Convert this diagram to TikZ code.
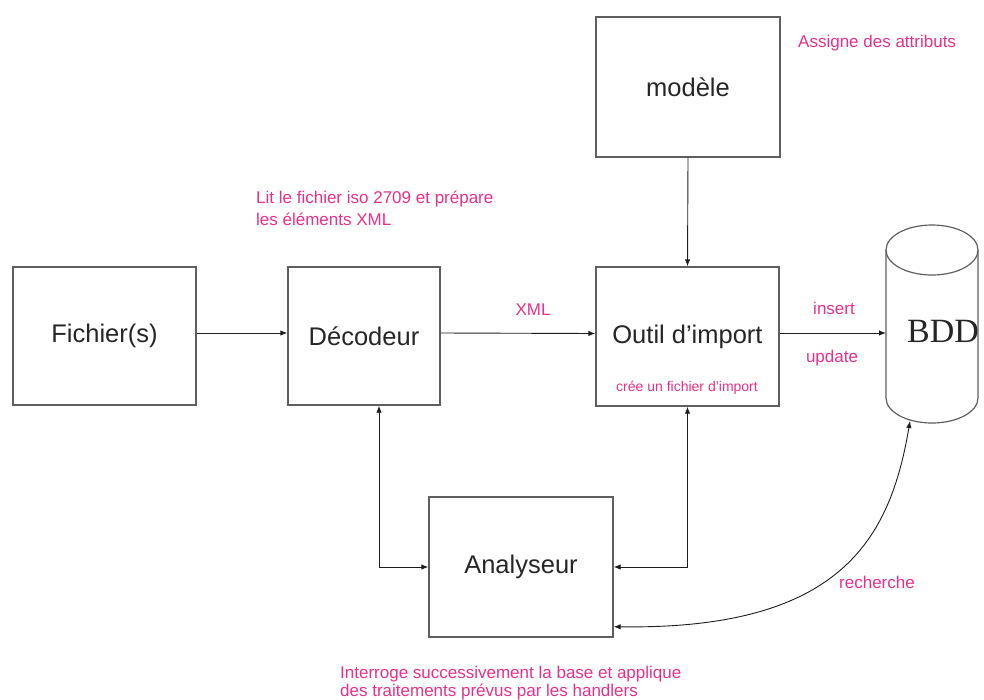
\documentclass[tikz,border=0pt]{standalone}
\usepackage{fontspec}
\setmainfont{Liberation Sans}
\newfontfamily\serifbdd{Liberation Serif}
\usetikzlibrary{arrows.meta}
\definecolor{pinklbl}{RGB}{228,50,140}
\definecolor{boxgray}{RGB}{95,95,95}
\definecolor{linedark}{RGB}{30,30,30}
\tikzset{
  box/.style={draw=boxgray, line width=1.4pt, rectangle, inner sep=0pt, font=\fontsize{25.5}{30}\selectfont, text=black!85},
  lbl/.style={text=pinklbl, font=\fontsize{17}{22}\selectfont, inner sep=0pt},
  conn/.style={draw=linedark, line width=0.9pt, -{Latex[length=7pt,width=5.5pt]}},
  conn2/.style={draw=linedark, line width=0.9pt, {Latex[length=7pt,width=5.5pt]}-{Latex[length=7pt,width=5.5pt]}},
}
\begin{document}
\begin{tikzpicture}[x=1pt,y=-1pt]
\useasboundingbox (0,0) rectangle (984,699);
% boxes
\node[box, minimum width=183pt, minimum height=138pt] (fich) at (104.5,336) {Fichier(s)};
\node[box, minimum width=152pt, minimum height=138pt] (deco) at (364,336) {Décodeur};
\node[box, minimum width=183pt, minimum height=139pt] (outil) at (687.5,336.5) {Outil d’import};
\node[box, minimum width=184pt, minimum height=140pt] (modele) at (688,87) {modèle};
\node[box, minimum width=184pt, minimum height=140pt] (ana) at (521,567) {Analyseur};
% BDD cylinder
\draw[draw=boxgray, line width=1.2pt] (932,250) ellipse[x radius=46, y radius=25];
\draw[draw=boxgray, line width=1.2pt] (886,250) -- (886,398) arc[start angle=180, end angle=0, x radius=46, y radius=25] -- (978,250);
\node[font=\serifbdd\fontsize{34}{36}\selectfont, text=black!85, inner sep=0pt] (bdd) at (943,331) {BDD};
\coordinate (bddin) at (886,333);
\coordinate (bddbot) at (910,421);
% connectors
\draw[conn] ([yshift=3pt]fich.east) -- ([yshift=3pt]deco.west);
\draw[conn] ([yshift=3pt]deco.east) -- ([yshift=3pt]outil.west);
\draw[conn] ([yshift=3.5pt]outil.east) -- (bddin);
\draw[conn] (modele.south) -- (outil.north);
\draw[conn2] ([xshift=15pt]deco.south) |- (ana.west);
\draw[conn2] (outil.south) |- (ana.east);
\draw[conn2] ([yshift=11pt]ana.south east) .. controls (840,630) and (890,540) .. (bddbot);
% labels
\node[lbl, anchor=west] (assigne) at (798,43) {Assigne des attributs};
\node[lbl, anchor=north west, align=left] (lit) at (256,191) {Lit le fichier iso 2709 et prépare\\les éléments XML};
\node[lbl] (xml) at (533,310) {XML};
\node[lbl] (insert) at (834,308) {insert};
\node[lbl] (update) at (832,358) {update};
\node[lbl, font=\fontsize{14}{16}\selectfont] (cree) at (687,388) {crée un fichier d’import};
\node[lbl] (rech) at (877,582) {recherche};
\node[lbl, anchor=north west, align=left, font=\fontsize{17}{17.5}\selectfont] (interroge) at (340,666) {Interroge successivement la base et applique\\des traitements prévus par les handlers};
\end{tikzpicture}
\end{document}
